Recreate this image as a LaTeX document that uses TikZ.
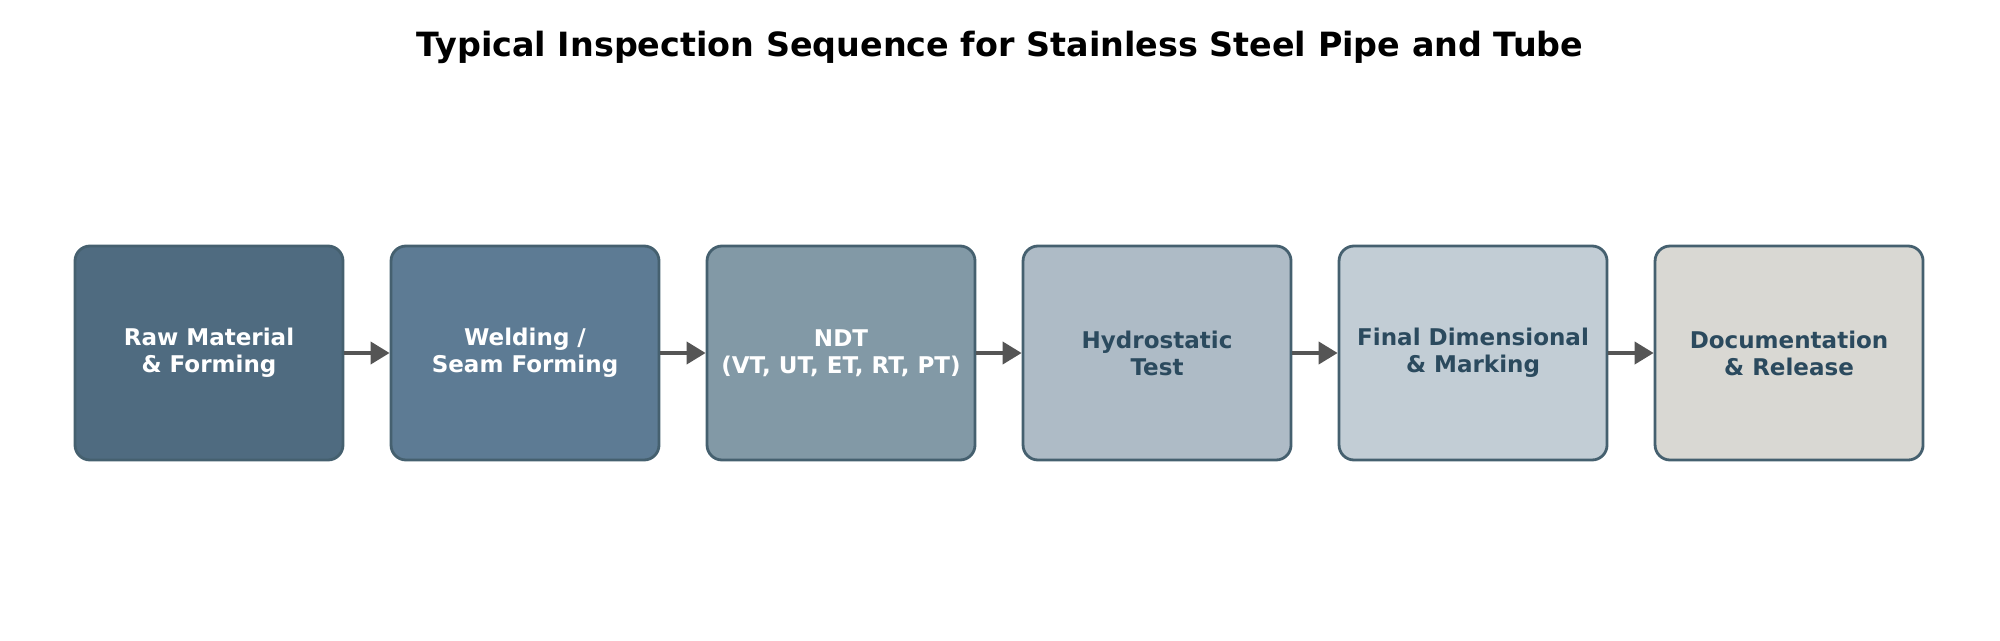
\documentclass[tikz,border=0pt]{standalone}
\usepackage{fontspec}
\setmainfont{DejaVu Sans}
\usepackage[HTML]{xcolor}
\usepackage{tikz}
\usetikzlibrary{positioning, arrows.meta}

\definecolor{stepA}{HTML}{4F6B80}
\definecolor{stepB}{HTML}{5D7B94}
\definecolor{stepC}{HTML}{8299A6}
\definecolor{stepD}{HTML}{AEBBC6}
\definecolor{stepE}{HTML}{C2CDD5}
\definecolor{stepF}{HTML}{D9D8D3}
\definecolor{edgeblue}{HTML}{45606F}
\definecolor{darktext}{HTML}{2B4A5E}
\definecolor{arrowgray}{HTML}{555555}

\begin{document}
\begin{tikzpicture}[
  stage/.style={draw=edgeblue, line width=0.8pt, rounded corners=0.15cm,
    minimum width=2.68cm, minimum height=2.14cm, align=center,
    font=\fontsize{6.55}{7.7}\selectfont\bfseries},
  light/.style={text=white},
  dark/.style={text=darktext},
  flow/.style={draw=arrowgray, line width=1.1pt,
    -{Triangle[length=0.19cm, width=0.22cm]}},
  node distance=0.452cm
]
\useasboundingbox (0,0) rectangle (20,6.4);

% --- Title ---
\node[font=\fontsize{9.5}{11}\selectfont\bfseries] (title) at (10,5.93)
  {Typical Inspection Sequence for Stainless Steel Pipe and Tube};

% --- Inspection stages ---
\node[stage, light, fill=stepA] (raw) at (2.09,2.87) {Raw Material\\\& Forming};
\node[stage, light, fill=stepB, right=of raw] (weld) {Welding /\\Seam Forming};
\node[stage, light, fill=stepC, right=of weld] (ndt) {NDT\\(VT, UT, ET, RT, PT)};
\node[stage, dark, fill=stepD, right=of ndt] (hydro) {Hydrostatic\\Test};
\node[stage, dark, fill=stepE, right=of hydro] (dim) {Final Dimensional\\\& Marking};
\node[stage, dark, fill=stepF, right=of dim] (docs) {Documentation\\\& Release};

% --- Flow arrows ---
\draw[flow] (raw) -- (weld);
\draw[flow] (weld) -- (ndt);
\draw[flow] (ndt) -- (hydro);
\draw[flow] (hydro) -- (dim);
\draw[flow] (dim) -- (docs);

\end{tikzpicture}
\end{document}
